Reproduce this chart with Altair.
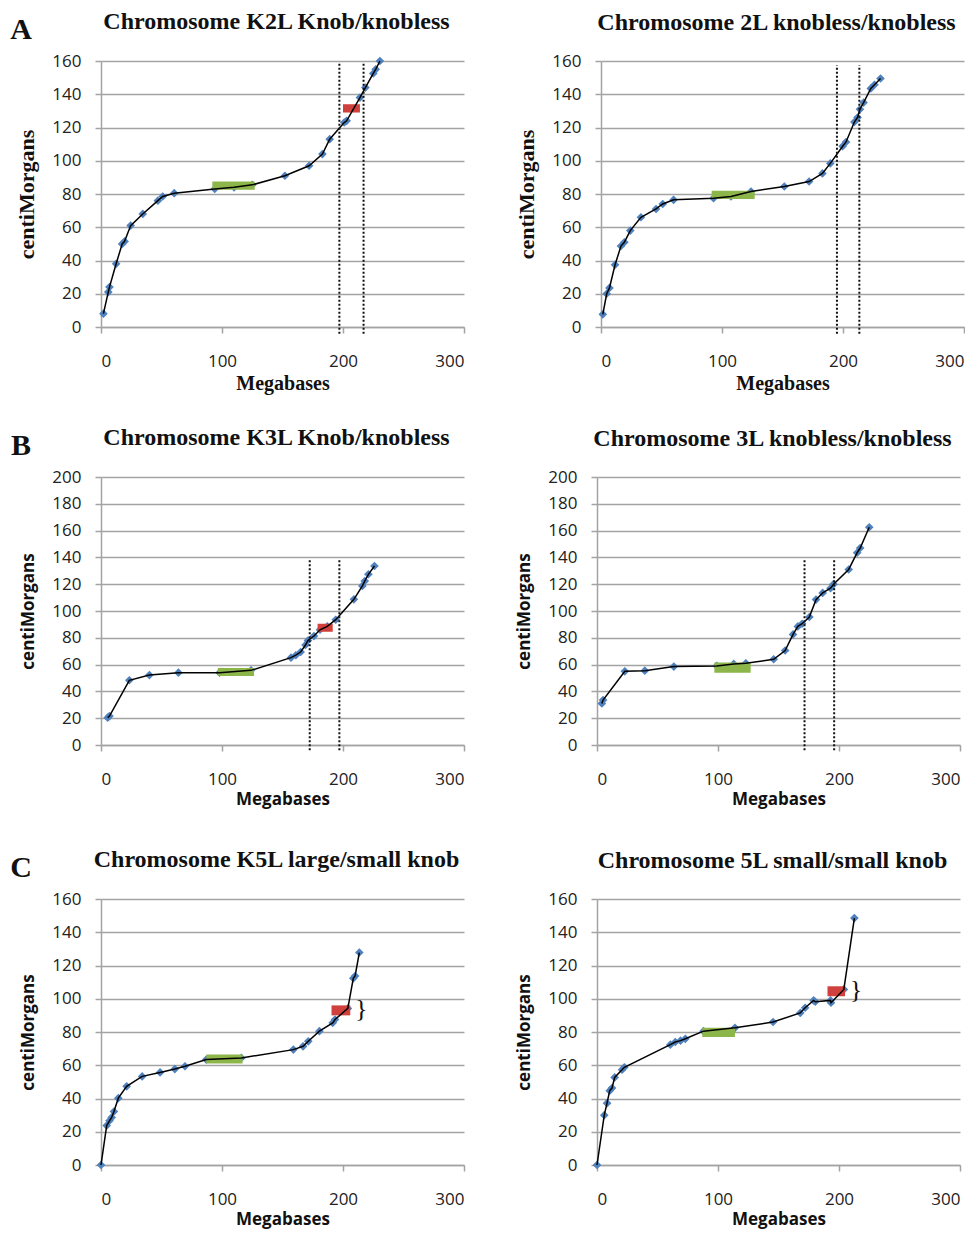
import altair as alt
import pandas as pd

# ---------------- data ----------------
TITLES = [
    "Chromosome K2L Knob/knobless", "Chromosome 2L knobless/knobless",
    "Chromosome K3L Knob/knobless", "Chromosome 3L knobless/knobless",
    "Chromosome K5L large/small knob", "Chromosome 5L small/small knob",
]
ROW_LABELS = ["A", "B", "C"]

K2L_MB = [2, 6, 7, 12.5, 17.5, 19.5, 24.5, 34.5, 47, 51, 60.5, 94, 110, 125, 152, 172, 183, 189, 201, 203, 214, 218.5, 225, 227, 230.5]
K2L_CM = [8, 21, 24, 38, 50, 51.5, 61, 68, 76, 78.5, 80.5, 83, 84, 85.5, 91, 97, 104, 113, 123, 124, 138, 144, 152.5, 155, 160]

L2_MB = [1.5, 4.7, 7, 11.6, 16.5, 19.3, 24.2, 33, 45.5, 51, 60, 93, 107.4, 124, 151.5, 172, 183, 189.5, 199.7, 202.5, 209.4, 212, 214, 217, 223, 226, 231]
L2_CM = [7.6, 20, 23.5, 37.4, 48.7, 51, 58, 66, 71, 74, 76.5, 77.5, 78.5, 81.5, 84.5, 87.5, 92.4, 98.4, 108.7, 111.3, 123.3, 126, 131, 135, 143.5, 145.7, 149.5]

K3L_MB = [5.5, 7, 23.4, 40, 64, 98, 124, 157, 161, 165, 169, 171, 176, 181, 187, 194, 209, 216, 218, 221, 226]
K3L_CM = [20.4, 21.6, 48.3, 52.2, 54, 54, 55.7, 65.2, 67, 69.4, 74.6, 78, 81.3, 86, 88.5, 93.5, 108.7, 118.7, 122.4, 127.4, 133.6]

L3_MB = [4, 5, 23, 39.5, 63.5, 99, 113, 123, 146, 155.5, 162, 166, 169.5, 175.5, 181, 186.5, 193, 195.5, 208, 215, 217.5, 225]
L3_CM = [31, 33.5, 55, 55.5, 58.5, 59, 60.5, 61, 64, 70.5, 82.5, 88.5, 90.5, 95.5, 108.5, 113.5, 117, 120, 131, 143.5, 147, 162.5]

K5L_MB = [0, 4.7, 7, 8.8, 10.7, 14.3, 21.2, 34, 48.8, 61, 69.4, 87, 116, 159, 167, 171.3, 180.5, 191.5, 193.4, 204, 208.5, 210, 213.5]
K5L_CM = [0, 23.7, 26.6, 28.6, 32.2, 40.2, 47.3, 53.3, 55.7, 57.7, 59.4, 63.4, 64.4, 69.4, 71.4, 74.4, 80.5, 85.5, 87.5, 94.2, 112.3, 113.7, 127.8]

L5_MB = [0, 6, 8.3, 10.5, 12.4, 14.6, 20.7, 22.6, 60.6, 64.7, 69, 73, 88, 114, 145.5, 168, 172, 179, 180.4, 193, 193.4, 204, 212.7]
L5_CM = [0, 30, 37.2, 44.7, 46.3, 52.7, 57.3, 58.8, 72.4, 74, 74.8, 75.9, 80.5, 82.5, 86, 91.5, 94.6, 99, 98.2, 99, 97.6, 105.6, 148.5]

# regions: [mb start, mb end, cM low, cM high]
GREEN = [[92, 127, 82.5, 87.5], [91.5, 127, 77, 82], [96.5, 126.5, 51.5, 57.5],
         [97, 127, 54, 61.5], [87, 117, 61, 66.5], [87, 114, 77, 82.5]]
RED = [[200, 214, 129, 134], None, [179, 191.5, 84.5, 90.5], None,
       [190.5, 206, 90, 96], [190.5, 205, 101.5, 107.5]]
DOTTED = [[197, 217], [195, 213.5], [172.5, 197], [171.5, 196], [], []]
DOTTED_TOP = [159, 157.5, 139, 139, 0, 0]
BRACE = [None, None, None, None, [215, 94], [214, 105]]
YMAX = [160, 160, 200, 200, 160, 160]

SERIES = [(K2L_MB, K2L_CM), (L2_MB, L2_CM), (K3L_MB, K3L_CM),
          (L3_MB, L3_CM), (K5L_MB, K5L_CM), (L5_MB, L5_CM)]

GRAY = "#a3a3a3"
BLUE = "#4f81bd"
SERIF = "Liberation Serif"
SANS = "Open Sans"


def make_panel(i):
    mb, cm = SERIES[i]
    ymax = YMAX[i]
    serif_axis = i < 2
    atf = SERIF if serif_axis else SANS
    xts = 20 if serif_axis else 17
    yts = 22 if serif_axis else 17

    xscale = alt.Scale(domain=[0, 300], nice=False)
    yscale = alt.Scale(domain=[0, ymax], nice=False)
    xaxis = alt.Axis(values=[0, 100, 200, 300], grid=False, domainColor=GRAY, domainWidth=1.5,
                     tickColor=GRAY, tickWidth=1.5, tickSize=6, labelPadding=20,
                     labelFont=SANS, labelFontSize=17, labelColor="#222",
                     title="Megabases", titleFont=atf, titleFontSize=xts, titleFontWeight="bold",
                     titleColor="#111", titlePadding=4)
    yaxis = alt.Axis(values=list(range(0, ymax + 1, 20)), grid=True, gridColor=GRAY, gridWidth=1.5,
                     domainColor=GRAY, domainWidth=1.5, tickColor=GRAY, tickWidth=1.5, tickSize=6,
                     labelPadding=14, labelFont=SANS, labelFontSize=17, labelColor="#222",
                     title="centiMorgans", titleFont=atf, titleFontSize=yts, titleFontWeight="bold",
                     titleColor="#111", titlePadding=13 if serif_axis else 14)

    x = alt.X("mb:Q", scale=xscale, axis=xaxis)
    y = alt.Y("cm:Q", scale=yscale, axis=yaxis)

    pts = pd.DataFrame({"mb": mb, "cm": cm})
    base = alt.Chart(pts)
    points = base.mark_point(shape="diamond", filled=True, size=75, color=BLUE, opacity=1).encode(x=x, y=y)
    line = base.mark_line(color="black", strokeWidth=1.5).encode(x=x, y=y)

    layers = [points]

    g = GREEN[i]
    gdf = pd.DataFrame({"mb": [g[0]], "mb2": [g[1]], "cm": [g[2]], "cm2": [g[3]]})
    layers.append(alt.Chart(gdf).mark_rect(color="#8db64a").encode(x=x, x2="mb2:Q", y=y, y2="cm2:Q"))

    r = RED[i]
    if r is not None:
        rdf = pd.DataFrame({"mb": [r[0]], "mb2": [r[1]], "cm": [r[2]], "cm2": [r[3]]})
        layers.append(alt.Chart(rdf).mark_rect(color="#d0413e").encode(x=x, x2="mb2:Q", y=y, y2="cm2:Q"))

    layers.append(line)

    if DOTTED[i]:
        ddf = pd.DataFrame({"mb": DOTTED[i], "cm": [-4] * len(DOTTED[i]),
                            "cm2": [DOTTED_TOP[i]] * len(DOTTED[i])})
        layers.append(alt.Chart(ddf).mark_rule(color="#111", strokeWidth=2, strokeDash=[2, 2])
                      .encode(x=x, y=y, y2="cm2:Q"))

    if BRACE[i] is not None:
        bdf = pd.DataFrame({"mb": [BRACE[i][0]], "cm": [BRACE[i][1]], "t": ["}"]})
        layers.append(alt.Chart(bdf).mark_text(font=SERIF, fontSize=26, align="center",
                                                baseline="middle", color="#111")
                      .encode(x=x, y=y, text="t:N"))

    left = i % 2 == 0
    if left:
        ldf = pd.DataFrame({"t": [ROW_LABELS[i // 2]]})
        layers.append(alt.Chart(ldf).mark_text(font=SERIF, fontSize=30, fontWeight="bold",
                                                align="center", baseline="middle", color="#111")
                      .encode(x=alt.value(-80), y=alt.value(-31), text="t:N"))

    return alt.layer(*layers).properties(
        width=363, height=266 if ymax == 160 else 268,
        title=alt.TitleParams(TITLES[i], font=SERIF, fontSize=24, fontWeight="bold",
                              color="#111", anchor="middle", offset=-19 if left else 17, dx=-6),
    )


rows = [alt.hconcat(make_panel(2 * r), make_panel(2 * r + 1), spacing=50) for r in range(3)]
top_two = alt.vconcat(rows[0], rows[1], spacing=33)
chart = alt.vconcat(top_two, rows[2], spacing=41).properties(
    padding={"left": 2, "top": 2, "right": 0, "bottom": 6}
).configure_view(strokeWidth=0)

chart.save("out.html", embed_options={"renderer": "svg", "actions": False})
